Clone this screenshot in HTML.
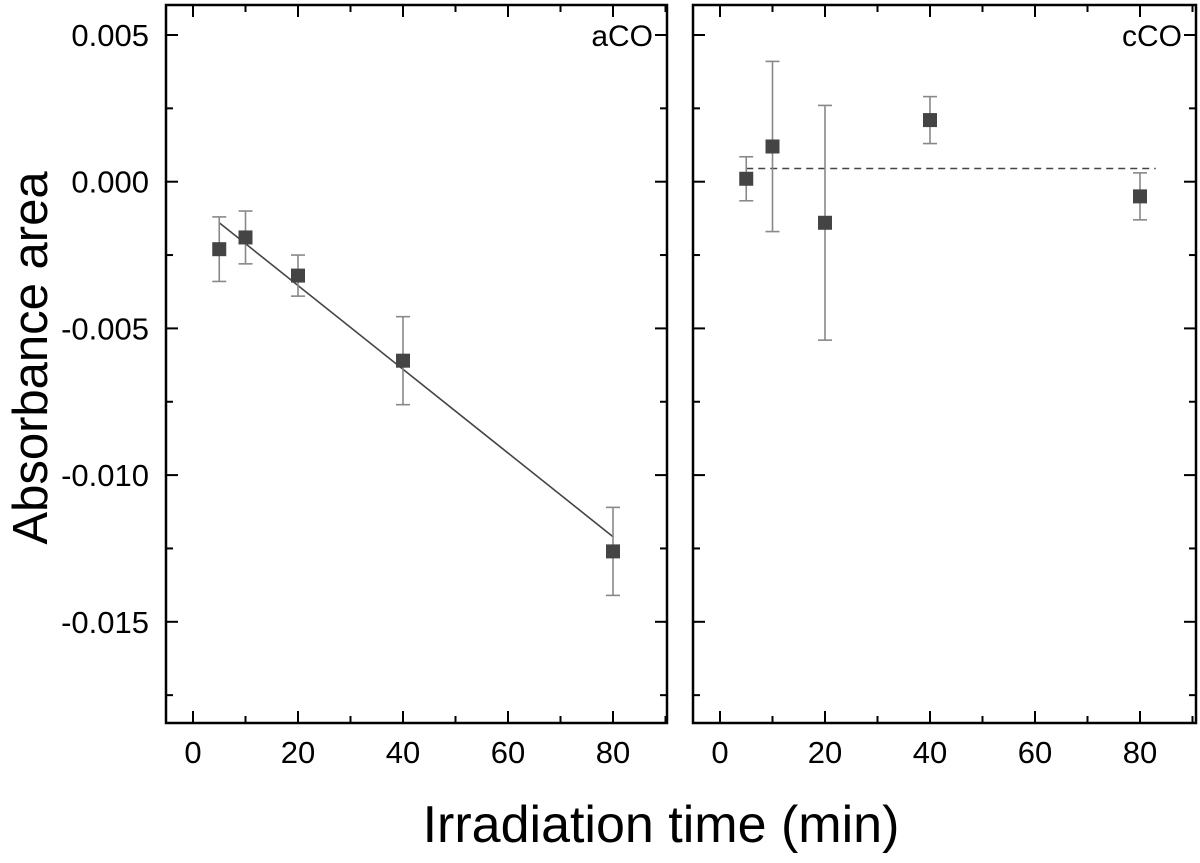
<!DOCTYPE html>
<html><head><meta charset="utf-8"><style>
body{margin:0;background:#fff}
text{font-family:"Liberation Sans",Arial,sans-serif;fill:#000}
</style></head><body>
<svg id="c" width="1200" height="858" xmlns="http://www.w3.org/2000/svg"></svg>
<script>
const xTicks=[0,20,40,60,80];
const yTicks=[0.005,0,-0.005,-0.010,-0.015];
const yTickLabels=["0.005","0.000","-0.005","-0.010","-0.015"];
const times=[5,10,20,40,80];
const aCO=[-0.0023,-0.0019,-0.0032,-0.0061,-0.0126];
const aCOerr=[0.0011,0.0009,0.0007,0.0015,0.0015];
const aFitX=[5,80];
const aFitY=[-0.0014,-0.0121];
const cCO=[0.0001,0.0012,-0.0014,0.0021,-0.0005];
const cCOerr=[0.00075,0.0029,0.004,0.0008,0.0008];
const cMeanX=[5,83];
const cMeanY=[0.00045,0.00045];
const NS="http://www.w3.org/2000/svg";
const svg=document.getElementById('c');
function mk(t,a,p){const e=document.createElementNS(NS,t);for(const k in a)e.setAttribute(k,a[k]);(p||svg).appendChild(e);return e;}
const yTop=5,yBot=723;
const y=v=>181.7-v/0.005*146.7;
const panels=[{l:166,r:667,x0:193,name:'aco',label:'aCO',data:aCO,err:aCOerr},{l:693,r:1196,x0:720,name:'cco',label:'cCO',data:cCO,err:cCOerr}];
panels.forEach((p,pi)=>{
  const x=v=>p.x0+v*5.25;
  const g=mk('g',{});
  
  
  const fr=mk('rect',{x:p.l,y:yTop,width:p.r-p.l,height:yBot-yTop,fill:'none',stroke:'#000','stroke-width':2.5},g);
  
  
  for(let v=0;v<=90;v+=10){const len=v%20===0?12:7;
    mk('line',{x1:x(v),x2:x(v),y1:yBot,y2:yBot-len,stroke:'#000','stroke-width':2},g);
    mk('line',{x1:x(v),x2:x(v),y1:yTop,y2:yTop+len,stroke:'#000','stroke-width':2},g);}
  for(let k=2;k>=-7;k--){const v=k*0.0025;const len=(k%2===0)?12:7;
    mk('line',{x1:p.l,x2:p.l+len,y1:y(v),y2:y(v),stroke:'#000','stroke-width':2},g);
    mk('line',{x1:p.r,x2:p.r-len,y1:y(v),y2:y(v),stroke:'#000','stroke-width':2},g);}
  xTicks.forEach(v=>{const t=mk('text',{x:x(v),y:763,'font-size':31,'text-anchor':'middle'},g);t.textContent=v;
    
    });
  if(pi===0)yTicks.forEach((v,i)=>{const t=mk('text',{x:149,y:y(v)+11,'font-size':31,'text-anchor':'end'},g);t.textContent=yTickLabels[i];
    
    });
  const lb=mk('text',{x:p.r-14,y:46,'font-size':30,'text-anchor':'end'},g);lb.textContent=p.label;
  
  
  if(pi===0){const fl=mk('line',{x1:x(aFitX[0]),y1:y(aFitY[0]),x2:x(aFitX[1]),y2:y(aFitY[1]),stroke:'#444','stroke-width':1.6},g);
    
    }
  else{const ml=mk('line',{x1:x(cMeanX[0]),y1:y(cMeanY[0]),x2:x(cMeanX[1]),y2:y(cMeanY[1]),stroke:'#444','stroke-width':1.6,'stroke-dasharray':'7,5'},g);
    
    }
  times.forEach((t,i)=>{const cx=x(t),v=p.data[i],e=p.err[i];
    const eb=mk('g',{stroke:'#888','stroke-width':1.6},g);
    
    
    mk('line',{x1:cx,x2:cx,y1:y(v+e),y2:y(v-e)},eb);
    mk('line',{x1:cx-7,x2:cx+7,y1:y(v+e),y2:y(v+e)},eb);
    mk('line',{x1:cx-7,x2:cx+7,y1:y(v-e),y2:y(v-e)},eb);
    const m=mk('rect',{x:cx-7,y:y(v)-7,width:14,height:14,fill:'#444'},g);
    
    });
});
const yt=mk('text',{x:0,y:0,'font-size':49,'text-anchor':'middle',transform:'translate(47,358) rotate(-90)'});yt.textContent='Absorbance area';


const xt=mk('text',{x:661,y:842,'font-size':52,'text-anchor':'middle'});xt.textContent='Irradiation time (min)';


</script>
</body></html>
